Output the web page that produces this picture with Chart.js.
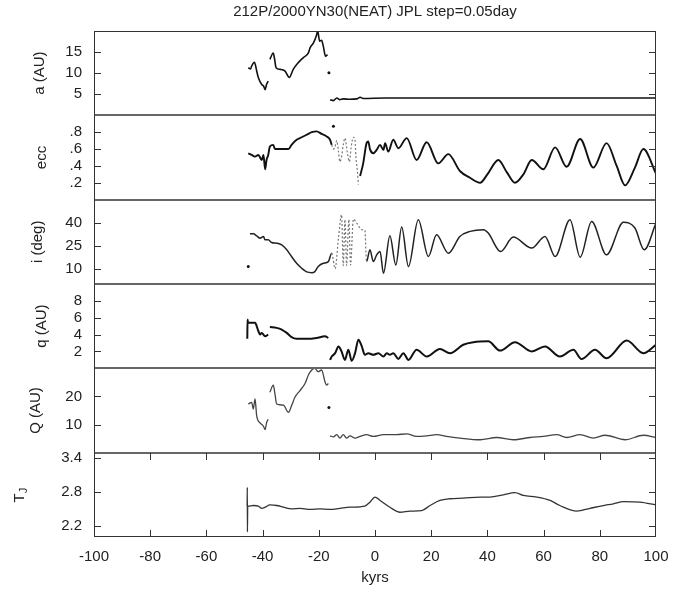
<!DOCTYPE html>
<html>
<head>
<meta charset="utf-8">
<script src="https://cdn.jsdelivr.net/npm/chart.js@4.4.1/dist/chart.umd.min.js"></script>
<style>
  html, body { margin: 0; padding: 0; background: #fff; }
  #wrap { width: 688px; height: 594px; }
</style>
</head>
<body>
<div id="wrap"><canvas id="orbitChart" width="688" height="594"></canvas></div>
<script>
const chartTitle = '212P/2000YN30(NEAT) JPL step=0.05day';

// x axis (kyrs)
const kyrTicks = [-100, -80, -60, -40, -20, 0, 20, 40, 60, 80, 100];

// semi-major axis a (AU)
const aTicks = [5, 10, 15];
const aKyr = [-45.1, -44.3, -43.9, -42.9, -42.1, -41.5, -40.3, -39.7, -39.1, -38.6, -38.0, -37.7, -37.4, -36.2, -35.8, -35.2, -33.8, -32.0, -30.5, -29.1, -27.3, -25.5, -23.7, -23.1, -21.9, -20.9, -20.4, -19.7, -19.0, -18.4, -17.6, -16.9, -16.5, -16.0, -14.8, -13.6, -12.5, -11.3, -8.9, -6.5, -5.3, -4.2, 3.6, 100];
const aVal = [11.3, 11.0, 11.7, 12.6, 10.5, 8.9, 7.3, 7.0, 6.1, 7.3, 8.1, null, 13.3, 14.8, 13.6, 11.3, 10.9, 10.5, 9.0, 10.9, 12.5, 13.7, 14.8, 16.0, 17.2, 18.8, 20.0, 17.6, 17.8, 16.4, 14.0, 14.4, null, 3.7, 3.5, 4.1, 3.7, 3.9, 3.8, 3.9, 4.3, 4.0, 4.1, 4.1];
const aDotKyr = [-16.4];
const aDotVal = [10.1];

// eccentricity
const eccTicks = [0.2, 0.4, 0.6, 0.8];
const eccKyr = [-45.1, -43.9, -42.7, -41.5, -40.3, -39.7, -39.1, -38.6, -38.0, -37.4, -36.2, -35.6, -33.8, -30.8, -29.7, -27.9, -26.1, -24.3, -22.5, -20.8, -19.0, -17.2, -16.0, -15.4, -14.8, -14.2, -13.6, -13.0, -12.5, -11.9, -11.3, -10.7, -9.8, -9.1, -8.5, -7.7, -7.1, -6.8, -6.3, -5.9, -5.6, -5.3, -4.2, -3.0, -2.4, -1.8, -0.6, 0.6, 1.8, 3.0, 3.6, 4.7, 6.5, 8.3, 11.3, 14.8, 18.4, 22.5, 26.1, 30.2, 33.8, 37.4, 40.0, 43.9, 47.0, 49.8, 52.8, 55.8, 59.9, 64.1, 68.2, 73.0, 77.7, 82.4, 86.0, 89.0, 92.5, 95.5, 100];
const eccVal = [0.55, 0.53, 0.51, 0.53, 0.47, 0.53, 0.36, 0.47, 0.53, 0.63, 0.65, 0.60, 0.60, 0.60, 0.65, 0.71, 0.74, 0.77, 0.80, 0.81, 0.78, 0.75, 0.71, 0.65, 0.60, 0.63, 0.70, 0.57, 0.45, 0.51, 0.65, 0.73, 0.55, 0.45, 0.62, 0.74, 0.70, 0.51, 0.35, 0.18, null, 0.28, 0.43, 0.67, 0.69, 0.60, 0.55, 0.59, 0.65, 0.59, 0.67, 0.57, 0.71, 0.61, 0.73, 0.47, 0.68, 0.43, 0.54, 0.34, 0.26, 0.20, 0.30, 0.47, 0.32, 0.20, 0.30, 0.47, 0.36, 0.62, 0.39, 0.72, 0.38, 0.67, 0.40, 0.17, 0.38, 0.60, 0.31];
const eccDotKyr = [-14.8];
const eccDotVal = [0.87];

// inclination i (deg)
const incTicks = [10, 25, 40];
const incKyr = [-44.5, -43.3, -42.1, -40.9, -39.7, -39.1, -38.0, -36.8, -35.0, -33.2, -31.4, -29.7, -27.9, -26.1, -24.3, -22.5, -21.4, -20.2, -18.4, -16.6, -15.4, -14.2, -13.0, -11.9, -11.3, -10.7, -10.1, -9.3, -8.7, -7.7, -6.5, -4.7, -3.6, -3.0, -1.8, -0.6, 0.6, 1.8, 3.0, 5.3, 7.4, 9.5, 11.9, 15.4, 19.0, 21.9, 26.1, 30.2, 33.8, 38.6, 40.3, 44.7, 49.2, 55.8, 60.5, 64.1, 69.4, 73.0, 77.1, 82.4, 88.4, 92.5, 95.8, 100];
const incVal = [32.7, 32.7, 31.4, 29.9, 31.0, 28.8, 28.8, 27.1, 26.6, 25.5, 22.3, 17.9, 13.5, 10.3, 7.9, 7.4, 8.1, 11.4, 13.5, 14.6, 20.1, 10.0, 30.0, 45.2, 12.0, 42.0, 12.0, 42.0, 12.4, 42.3, 39.7, 35.4, 35.0, 14.6, 22.3, 14.6, 19.0, 21.2, 7.0, 31.4, 12.4, 37.1, 11.4, 41.9, 17.9, 32.1, 20.1, 31.0, 34.3, 35.4, 33.2, 21.2, 30.6, 23.4, 31.0, 17.9, 41.9, 17.5, 40.8, 19.0, 40.2, 36.5, 22.3, 39.7];
const incDotKyr = [-45.1];
const incDotVal = [11.4];

// perihelion q (AU)
const qTicks = [2, 4, 6, 8];
const qKyr = [-45.45, -45.35, -45.2, -42.7, -41.5, -40.9, -40.3, -39.1, -38.0, -37.7, -37.4, -35.0, -33.2, -31.4, -29.7, -27.9, -24.3, -20.8, -17.8, -16.6, -16.3, -16.0, -15.4, -14.2, -13.0, -11.9, -10.7, -9.5, -8.3, -7.1, -5.9, -4.7, -3.6, -2.4, -0.6, 1.2, 3.0, 4.2, 5.3, 6.5, 8.3, 10.1, 11.9, 14.8, 18.4, 23.1, 26.7, 31.4, 35.0, 40.3, 44.5, 49.8, 55.8, 60.5, 65.8, 70.6, 73.5, 78.3, 82.4, 89.6, 95.5, 100];
const qVal = [3.5, 5.8, 5.4, 5.4, 4.4, 4.0, 4.2, 3.8, 4.0, null, 4.9, 4.8, 4.6, 4.2, 3.7, 3.5, 3.5, 3.6, 3.8, 3.6, null, 1.0, 1.4, 1.8, 2.6, 2.0, 1.0, 2.2, 0.9, 1.8, 3.4, 2.6, 1.6, 1.8, 1.6, 1.8, 1.4, 1.8, 1.6, 1.8, 1.1, 1.8, 1.0, 2.2, 1.4, 2.3, 1.8, 2.8, 3.1, 3.2, 2.1, 3.1, 2.0, 2.6, 1.4, 2.2, 1.1, 2.2, 1.2, 3.3, 1.8, 2.8];

// aphelion Q (AU)
const bigQTicks = [10, 20];
const bigQKyr = [-45.1, -43.9, -43.3, -42.7, -42.1, -40.9, -39.7, -39.1, -38.6, -38.0, -37.7, -37.4, -36.2, -35.6, -35.0, -32.6, -30.8, -29.7, -28.5, -26.7, -24.9, -23.7, -22.5, -21.4, -20.2, -19.0, -17.8, -17.2, -16.6, -16.3, -16.0, -14.8, -13.6, -12.5, -11.3, -10.1, -8.9, -7.1, -5.3, -3.0, -0.6, 3.0, 7.7, 11.3, 14.8, 18.4, 21.9, 25.5, 30.2, 37.4, 43.3, 49.2, 55.2, 59.9, 64.7, 68.2, 73.0, 77.7, 81.9, 89.0, 95.5, 100];
const bigQVal = [17.3, 17.9, 15.5, 19.1, 13.1, 10.6, 9.4, 8.2, 10.6, 11.9, null, 21.5, 24.0, 20.9, 17.3, 16.9, 14.3, 16.7, 19.7, 22.1, 24.6, 27.6, 29.4, 30.0, 28.8, 29.4, 25.2, 24.0, 24.6, null, 6.0, 5.6, 6.4, 5.2, 6.4, 5.2, 6.0, 5.2, 5.8, 6.4, 5.8, 6.4, 6.4, 6.7, 5.8, 6.0, 6.4, 5.8, 5.2, 4.6, 5.4, 4.6, 5.4, 5.8, 6.4, 5.4, 6.4, 5.2, 6.2, 4.6, 6.2, 5.4];
const bigQDotKyr = [-16.4];
const bigQDotVal = [16.1];

// Tisserand parameter T_J
const tjTicks = [2.2, 2.8, 3.4];
const tjKyr = [-45.5, -45.45, -45.4, -45.3, -45.1, -43.3, -41.5, -40.3, -39.1, -37.4, -35.0, -32.6, -29.7, -26.7, -23.1, -19.6, -16.0, -12.5, -8.9, -3.6, -1.8, 0, 1.8, 5.3, 8.9, 12.5, 16.6, 19.6, 23.1, 26.7, 31.4, 37.4, 40.9, 45.7, 49.8, 52.8, 57.5, 62.3, 65.8, 71.8, 76.5, 81.3, 84.8, 88.4, 94.3, 100];
const tjVal = [2.55, 2.88, 2.09, 2.55, 2.55, 2.56, 2.55, 2.51, 2.53, 2.57, 2.56, 2.53, 2.50, 2.51, 2.49, 2.50, 2.49, 2.51, 2.53, 2.55, 2.62, 2.71, 2.65, 2.53, 2.44, 2.46, 2.47, 2.56, 2.65, 2.68, 2.69, 2.71, 2.71, 2.75, 2.79, 2.74, 2.71, 2.65, 2.56, 2.46, 2.51, 2.56, 2.59, 2.63, 2.62, 2.57];

const FONT = '"Liberation Sans", Arial, Helvetica, sans-serif';
const INK = '#222';

function pts(xs, ys) {
    return xs.map((x, i) => ({ x: x, y: ys[i] }));
}

// the chaotic stretches look like faint dotted strokes
function inChaos(from, to) {
    return ctx => ctx.p0.parsed.x >= from && ctx.p1.parsed.x <= to;
}

function curve(xs, ys, axis, color, width, dashFrom, dashTo) {
    const ds = {
        data: pts(xs, ys),
        yAxisID: axis,
        borderColor: color,
        borderWidth: width,
        pointRadius: 0,
        fill: false,
        spanGaps: false,
        cubicInterpolationMode: 'monotone'
    };
    if (dashFrom !== undefined) {
        const test = inChaos(dashFrom, dashTo);
        ds.segment = {
            borderDash: ctx => test(ctx) ? [2, 2] : undefined,
            borderColor: ctx => test(ctx) ? '#777' : undefined,
            borderWidth: ctx => test(ctx) ? 1.2 : undefined
        };
    }
    return ds;
}

function dots(xs, ys, axis) {
    return {
        data: pts(xs, ys),
        yAxisID: axis,
        showLine: false,
        pointRadius: 1.5,
        pointBackgroundColor: '#111',
        pointBorderWidth: 0
    };
}

function panelAxis(ticks, min, max, weight, fmt) {
    return {
        type: 'linear',
        position: 'left',
        stack: 'panels',
        stackWeight: 1,
        weight: weight,
        min: min,
        max: max,
        afterFit: s => { s.width = 94; },
        afterBuildTicks: s => { s.ticks = ticks.map(v => ({ value: v })); },
        grid: { display: false, drawTicks: false },
        border: { display: false },
        ticks: {
            color: INK,
            autoSkip: false,
            padding: 12,
            font: { family: FONT, size: 15 },
            callback: fmt || (v => String(v))
        }
    };
}

const panelTitles = [
    { id: 'yA', text: 'a (AU)', x: 40 },
    { id: 'yE', text: 'ecc', x: 42 },
    { id: 'yI', text: 'i (deg)', x: 38 },
    { id: 'yq', text: 'q (AU)', x: 42 },
    { id: 'yQ', text: 'Q (AU)', x: 36 },
    { id: 'yT', text: 'T', sub: 'J', x: 20 }
];

// frames, inward ticks and the rotated panel labels
const panelFrames = {
    id: 'panelFrames',
    afterDatasetsDraw(chart) {
        const { ctx, chartArea, scales } = chart;
        const left = chartArea.left, right = chartArea.right;
        ctx.save();
        ctx.lineWidth = 1;

        panelTitles.forEach((p, idx) => {
            const s = scales[p.id];
            const top = Math.round(s.top), bottom = Math.round(s.bottom);

            ctx.strokeStyle = '#333';
            ctx.beginPath();
            s.ticks.forEach(t => {
                const y = Math.round(s.getPixelForValue(t.value)) + 0.5;
                ctx.moveTo(left, y); ctx.lineTo(left + 7, y);
                ctx.moveTo(right - 7, y); ctx.lineTo(right, y);
            });
            ctx.stroke();

            ctx.strokeStyle = '#666';
            ctx.strokeRect(Math.round(left) + 0.5, top + 0.5, Math.round(right - left) - 1, bottom - top - 1);

            ctx.save();
            ctx.translate(p.x, (s.top + s.bottom) / 2);
            ctx.rotate(-Math.PI / 2);
            ctx.fillStyle = INK;
            ctx.textBaseline = 'middle';
            ctx.font = '15px ' + FONT;
            if (p.sub) {
                const w = ctx.measureText(p.text).width;
                ctx.textAlign = 'left';
                ctx.fillText(p.text, -w / 2 - 3, 0);
                ctx.font = '11px ' + FONT;
                ctx.fillText(p.sub, w / 2 - 3, 4);
            } else {
                ctx.textAlign = 'center';
                ctx.fillText(p.text, 0, 0);
            }
            ctx.restore();
        });

        // outer frame a little darker
        const first = scales.yA, last = scales.yT;
        ctx.strokeStyle = '#333';
        ctx.strokeRect(Math.round(left) + 0.5, Math.round(first.top) + 0.5, Math.round(right - left) - 1, Math.round(last.bottom) - Math.round(first.top) - 1);

        // x ticks only on the bottom panel, top and bottom edges
        const sx = scales.x, sT = scales.yT;
        ctx.beginPath();
        kyrTicks.slice(1, -1).forEach(v => {
            const x = Math.round(sx.getPixelForValue(v)) + 0.5;
            ctx.moveTo(x, Math.round(sT.bottom)); ctx.lineTo(x, Math.round(sT.bottom) - 7);
            ctx.moveTo(x, Math.round(sT.top)); ctx.lineTo(x, Math.round(sT.top) + 7);
        });
        ctx.stroke();
        ctx.restore();
    }
};

const datasets = [
    curve(aKyr, aVal, 'yA', '#111', 1.6),
    dots(aDotKyr, aDotVal, 'yA'),
    curve(eccKyr, eccVal, 'yE', '#111', 1.9, -15.5, -5.0),
    dots(eccDotKyr, eccDotVal, 'yE'),
    curve(incKyr, incVal, 'yI', '#222', 1.5, -15.5, -2.9),
    dots(incDotKyr, incDotVal, 'yI'),
    curve(qKyr, qVal, 'yq', '#111', 2.0),
    curve(bigQKyr, bigQVal, 'yQ', '#444', 1.3),
    dots(bigQDotKyr, bigQDotVal, 'yQ'),
    curve(tjKyr, tjVal, 'yT', '#333', 1.3)
];

new Chart(document.getElementById('orbitChart'), {
    type: 'line',
    data: { datasets: datasets },
    options: {
        responsive: false,
        animation: false,
        layout: { padding: { left: 0, right: 32, top: 0, bottom: 0 } },
        plugins: {
            legend: { display: false },
            tooltip: { enabled: false },
            title: {
                display: true,
                text: chartTitle,
                fullSize: false,
                color: INK,
                font: { family: FONT, size: 15, weight: 'normal' },
                padding: { top: 3, bottom: 10 }
            }
        },
        scales: {
            x: {
                type: 'linear',
                position: 'bottom',
                min: -100,
                max: 100,
                afterBuildTicks: s => { s.ticks = kyrTicks.map(v => ({ value: v })); },
                afterFit: s => { s.height = 57; },
                grid: { display: false, drawTicks: false },
                border: { display: false },
                ticks: { color: INK, autoSkip: false, maxRotation: 0, padding: 11, font: { family: FONT, size: 15 } },
                title: { display: true, text: 'kyrs', color: INK, font: { family: FONT, size: 15 }, padding: { top: 0, bottom: 7 } }
            },
            yA: panelAxis(aTicks, 0, 20, 6),
            yE: panelAxis(eccTicks, 0, 1, 5, v => v.toFixed(1).replace('0.', '.')),
            yI: panelAxis(incTicks, 0, 55, 4),
            yq: panelAxis(qTicks, 0, 10, 3),
            yQ: panelAxis(bigQTicks, 0, 30, 2),
            yT: panelAxis(tjTicks, 2.0, 3.5, 1, v => v.toFixed(1))
        }
    },
    plugins: [panelFrames]
});
</script>
</body>
</html>
